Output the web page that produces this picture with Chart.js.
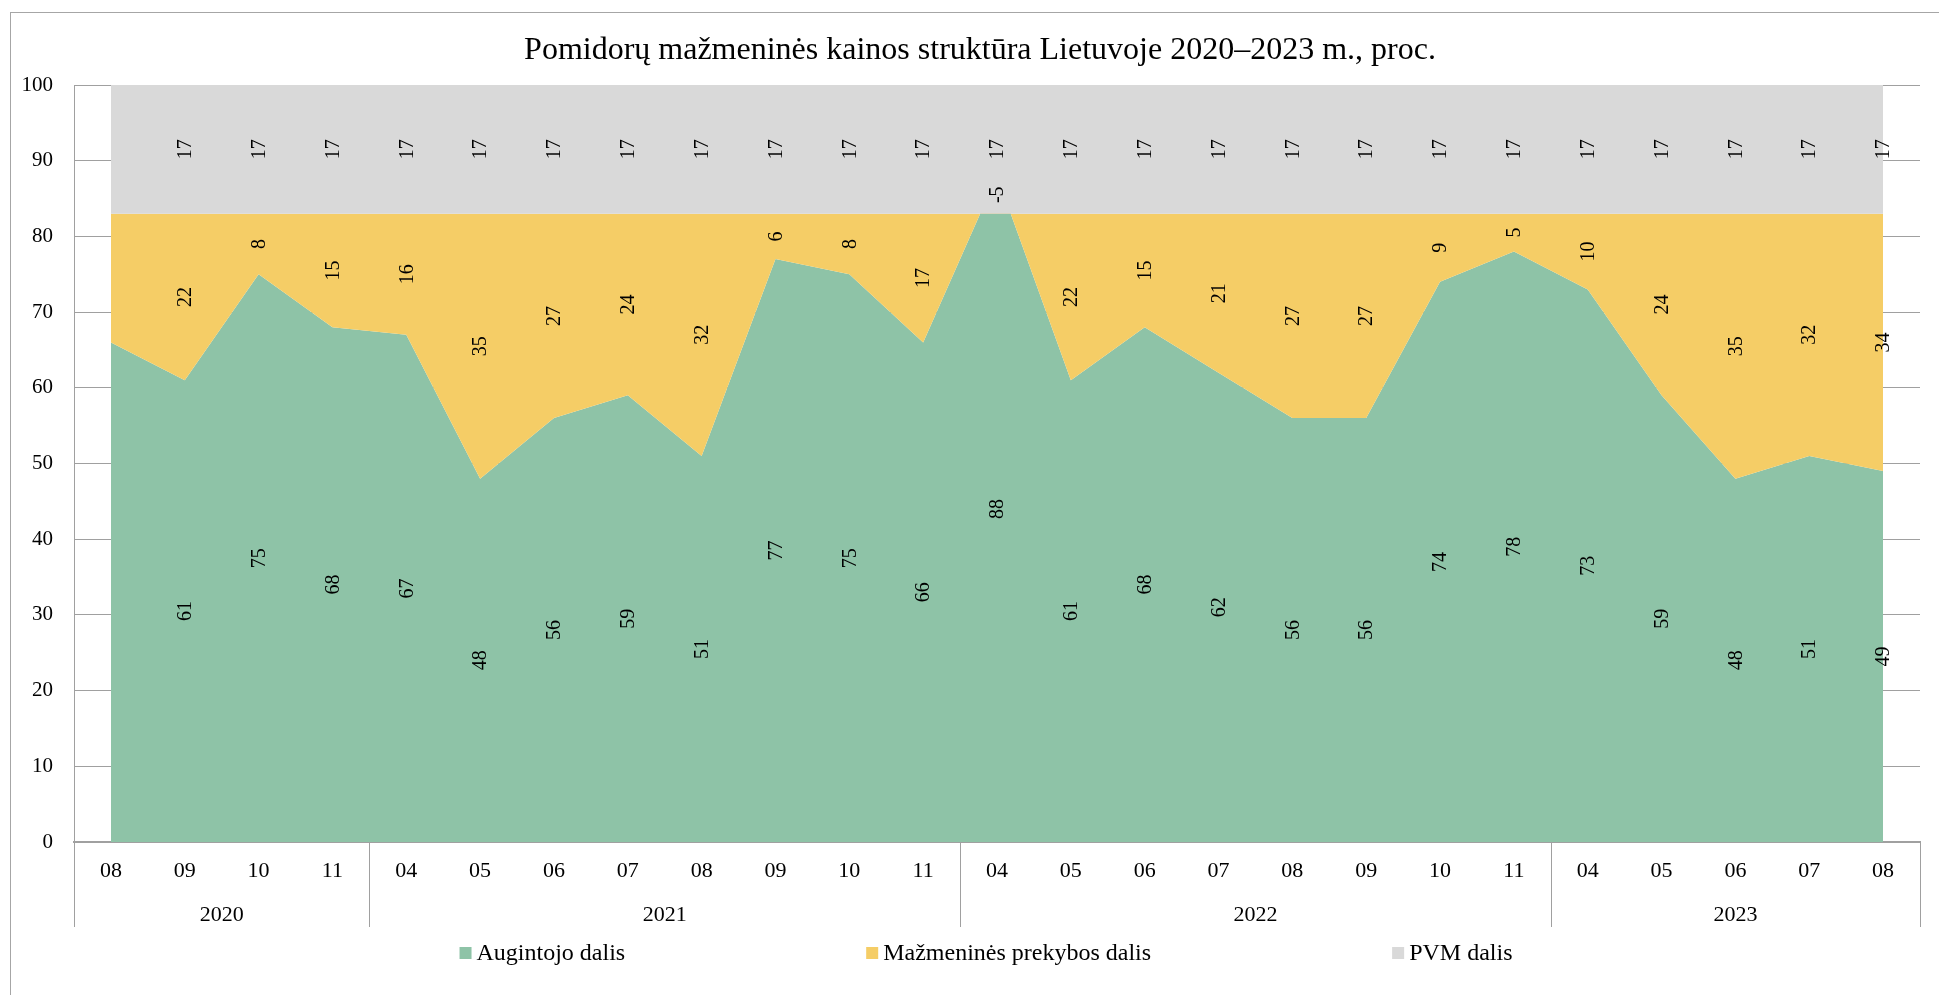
<!DOCTYPE html>
<html>
<head>
<meta charset="utf-8">
<script src="https://cdn.jsdelivr.net/npm/chart.js@4/dist/chart.umd.min.js"></script>
<style>
  html, body { margin: 0; padding: 0; background: #fff; }
  #wrap { width: 1939px; height: 995px; }
</style>
</head>
<body>
<div id="wrap"><canvas id="priceChart" width="1939" height="995"></canvas></div>
<script>
const MONTHS = ['08', '09', '10', '11',
  '04', '05', '06', '07', '08', '09', '10', '11',
  '04', '05', '06', '07', '08', '09', '10', '11',
  '04', '05', '06', '07', '08'];
const YEARS = ['2020', '2021', '2022', '2023'];
const YEAR_MONTHS = [4, 8, 8, 5];

// shares of the retail price, %
const augintojo = [66, 61, 75, 68, 67, 48, 56, 59, 51, 77, 75, 66, 88, 61, 68, 62, 56, 56, 74, 78, 73, 59, 48, 51, 49];
const mazmenines = [17, 22, 8, 15, 16, 35, 27, 24, 32, 6, 8, 17, -5, 22, 15, 21, 27, 27, 9, 5, 10, 24, 35, 32, 34];
const pvm = [17, 17, 17, 17, 17, 17, 17, 17, 17, 17, 17, 17, 17, 17, 17, 17, 17, 17, 17, 17, 17, 17, 17, 17, 17];

const TITLE = 'Pomidorų mažmeninės kainos struktūra Lietuvoje 2020–2023 m., proc.';
const SERIES_NAMES = ['Augintojo dalis', 'Mažmeninės prekybos dalis', 'PVM dalis'];
const COLORS = ['#8ec3a7', '#f5cd66', '#d9d9d9'];

const FONT = "'Liberation Serif', 'Times New Roman', serif";
const LINE = '#a0a0a0';

// running totals, so each band is filled between two lines
const topGreen = augintojo.slice();
const topOrange = augintojo.map((v, i) => v + mazmenines[i]);
const topGray = topOrange.map((v, i) => v + pvm[i]);

const series = [augintojo, mazmenines, pvm];
const bases = [augintojo.map(() => 0), topGreen, topOrange];

// value labels sit in the middle of each band, turned on their side
const bandLabels = {
  id: 'bandLabels',
  afterDatasetsDraw(chart) {
    const { ctx, scales: { x, y } } = chart;
    ctx.save();
    ctx.font = '20px ' + FONT;
    ctx.fillStyle = '#000';
    ctx.textAlign = 'center';
    ctx.textBaseline = 'middle';
    series.forEach((vals, s) => {
      vals.forEach((v, i) => {
        if (i === 0) return;
        const px = x.getPixelForValue(i);
        const py = y.getPixelForValue(bases[s][i] + v / 2);
        ctx.save();
        ctx.translate(px, py);
        ctx.rotate(-Math.PI / 2);
        ctx.fillText(String(v), 0, 1);
        ctx.restore();
      });
    });
    ctx.restore();
  }
};

// second row of the category axis: years with dividers
const yearRow = {
  id: 'yearRow',
  afterDraw(chart) {
    const { ctx, chartArea, scales: { x } } = chart;
    const step = (chartArea.right - chartArea.left) / MONTHS.length;
    const lineBottom = chartArea.bottom + 85;
    ctx.save();
    ctx.strokeStyle = LINE;
    ctx.lineWidth = 1;
    ctx.font = '22px ' + FONT;
    ctx.fillStyle = '#000';
    ctx.textAlign = 'center';
    ctx.textBaseline = 'middle';
    let start = 0;
    const edges = [chartArea.left];
    YEARS.forEach((yr, k) => {
      const end = start + YEAR_MONTHS[k];
      const left = x.getPixelForValue(start) - step / 2;
      const right = x.getPixelForValue(end - 1) + step / 2;
      edges.push(right);
      ctx.fillText(yr, (left + right) / 2, chartArea.bottom + 73);
      start = end;
    });
    edges.forEach(ex => {
      const xx = Math.round(ex) + 0.5;
      ctx.beginPath();
      ctx.moveTo(xx, chartArea.bottom);
      ctx.lineTo(xx, lineBottom);
      ctx.stroke();
    });
    ctx.restore();
  }
};

// title and legend row
const captions = {
  id: 'captions',
  afterDraw(chart) {
    const { ctx } = chart;
    ctx.save();
    ctx.fillStyle = '#000';
    ctx.textAlign = 'center';
    ctx.textBaseline = 'middle';
    ctx.font = '32px ' + FONT;
    ctx.fillText(TITLE, 980, 51);

    const box = 12, gap = 241, textGap = 5;
    ctx.font = '24px ' + FONT;
    const widths = SERIES_NAMES.map(n => box + textGap + ctx.measureText(n).width);
    const total = widths.reduce((a, b) => a + b, 0) + gap * (SERIES_NAMES.length - 1);
    let cx = 986 - total / 2;
    const cy = 953;
    ctx.textAlign = 'left';
    SERIES_NAMES.forEach((n, i) => {
      ctx.fillStyle = COLORS[i];
      ctx.fillRect(cx, cy - box / 2, box, box);
      ctx.fillStyle = '#000';
      ctx.fillText(n, cx + box + textGap, cy + 1);
      cx += widths[i] + gap;
    });
    ctx.restore();
  }
};

const frame = {
  id: 'frame',
  beforeDraw(chart) {
    const { ctx, width, height } = chart;
    ctx.save();
    ctx.fillStyle = '#fff';
    ctx.fillRect(0, 0, width, height);
    ctx.strokeStyle = '#a6a6a6';
    ctx.lineWidth = 1;
    ctx.strokeRect(10.5, 12.5, width + 20, height + 20);
    ctx.restore();
  }
};

new Chart(document.getElementById('priceChart'), {
  type: 'line',
  data: {
    labels: MONTHS,
    datasets: [
      { label: SERIES_NAMES[2], data: topGray, backgroundColor: COLORS[2], fill: 1 },
      { label: SERIES_NAMES[1], data: topOrange, backgroundColor: COLORS[1], fill: 2 },
      { label: SERIES_NAMES[0], data: topGreen, backgroundColor: COLORS[0], fill: 'origin' }
    ]
  },
  options: {
    responsive: false,
    animation: false,
    events: [],
    elements: {
      line: { borderWidth: 0, tension: 0 },
      point: { radius: 0 }
    },
    layout: { padding: { left: 10, right: 19, top: 85, bottom: 68 } },
    plugins: {
      legend: { display: false },
      tooltip: { enabled: false },
      title: { display: false }
    },
    scales: {
      x: {
        offset: true,
        z: 1,
        grid: { display: false },
        border: { display: true, color: LINE, width: 2 },
        ticks: {
          color: '#000',
          font: { family: FONT, size: 22 },
          padding: 8,
          maxRotation: 0,
          autoSkip: false
        },
        afterFit(s) { s.height = 85; }
      },
      y: {
        min: 0,
        max: 100,
        grid: { color: LINE, drawTicks: false },
        border: { display: true, color: LINE },
        ticks: {
          stepSize: 10,
          color: '#000',
          font: { family: FONT, size: 21 },
          padding: 21
        },
        afterFit(s) { s.width = 64; }
      }
    }
  },
  plugins: [frame, bandLabels, yearRow, captions]
});
</script>
</body>
</html>
